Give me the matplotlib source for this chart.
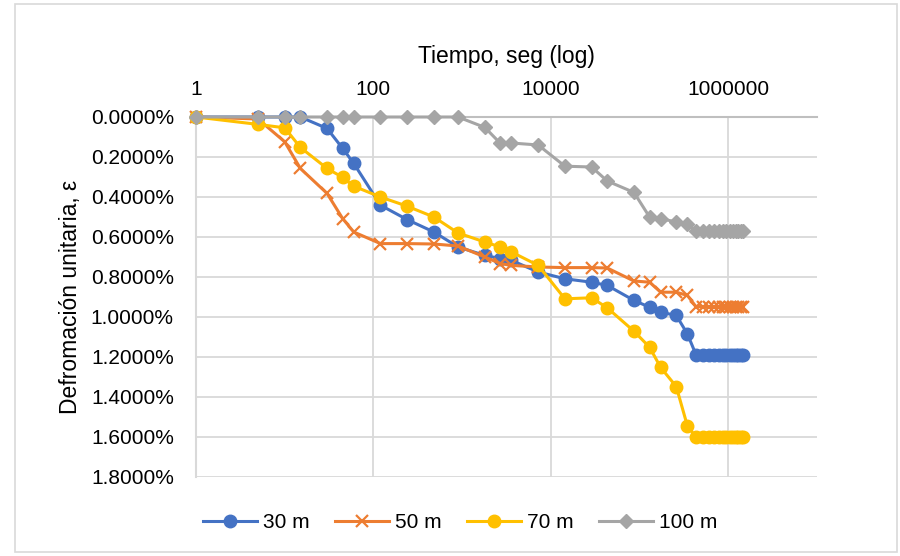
import matplotlib
matplotlib.use("Agg")
import matplotlib.pyplot as plt
from matplotlib.ticker import FixedLocator, FuncFormatter, NullLocator
from matplotlib.patches import Rectangle

plt.rcParams['font.family'] = ['Liberation Sans', 'DejaVu Sans']

# Time (s)
tiempo = [1, 5, 10, 15, 30, 45, 60, 120, 240, 480, 900, 1800, 2700, 3600,
          7200, 14400, 28800, 43200, 86400, 129600, 172800, 259200, 345600,
          432000, 518400, 604800, 691200, 777600, 864000, 950400, 1036800,
          1123200, 1209600, 1296000, 1382400, 1468800]

# Strain (%)
def_30 = [0, 0, 0, 0, 0.057, 0.157, 0.232, 0.441, 0.513, 0.575, 0.650, 0.692,
          0.708, 0.717, 0.775, 0.809, 0.826, 0.842, 0.917, 0.951, 0.976, 0.992,
          1.084, 1.188, 1.188, 1.188, 1.188, 1.188, 1.188, 1.188, 1.188, 1.188,
          1.188, 1.188, 1.188, 1.188]
def_50 = [0, 0.010, 0.124, 0.257, 0.382, 0.508, 0.575, 0.633, 0.633, 0.635,
          0.645, 0.700, 0.733, 0.742, 0.750, 0.753, 0.753, 0.755, 0.820, 0.826,
          0.876, 0.876, 0.892, 0.948, 0.948, 0.948, 0.948, 0.948, 0.948, 0.948,
          0.948, 0.948, 0.948, 0.948, 0.948, 0.948]
def_70 = [0, 0.037, 0.054, 0.152, 0.257, 0.302, 0.346, 0.400, 0.446, 0.500,
          0.580, 0.625, 0.650, 0.675, 0.742, 0.909, 0.904, 0.954, 1.071, 1.151,
          1.252, 1.348, 1.544, 1.600, 1.600, 1.600, 1.600, 1.600, 1.600, 1.600,
          1.600, 1.600, 1.600, 1.600, 1.600, 1.600]
def_100 = [0, 0, 0, 0, 0, 0, 0, 0, 0, 0, 0, 0.052, 0.132, 0.130, 0.140, 0.246,
           0.250, 0.320, 0.377, 0.500, 0.508, 0.525, 0.536, 0.570, 0.570, 0.570,
           0.570, 0.570, 0.570, 0.570, 0.570, 0.570, 0.570, 0.570, 0.570, 0.570]

series = [("30 m", def_30, "#4472C4", "o"),
          ("50 m", def_50, "#ED7D31", "x"),
          ("70 m", def_70, "#FFC000", "o"),
          ("100 m", def_100, "#A5A5A5", "D")]

x_ticks = [1, 100, 10000, 1000000]
y_ticks = [0, 0.2, 0.4, 0.6, 0.8, 1.0, 1.2, 1.4, 1.6, 1.8]

fig = plt.figure(figsize=(9, 5.56), dpi=100)
fig.patches.append(Rectangle((15/900, 4/556), 882/900, 548/556, transform=fig.transFigure,
                             fill=False, edgecolor="#D9D9D9", lw=1.2))
ax = fig.add_axes([196/900, 1-477/556, 621/900, 360/556])

for name, vals, col, mk in series:
    if mk == "x":
        ax.plot(tiempo, vals, color=col, lw=2.2, marker=mk, ms=8, mew=1.6,
                label=name, clip_on=False, zorder=3)
    elif mk == "D":
        ax.plot(tiempo, vals, color=col, lw=2.2, marker=mk, ms=7,
                mec=col, label=name, clip_on=False, zorder=3)
    else:
        ax.plot(tiempo, vals, color=col, lw=2.2, marker=mk, ms=9,
                mec=col, label=name, clip_on=False, zorder=3)

ax.set_xscale("log")
ax.set_xlim(1, 1e7)
ax.set_ylim(1.8, 0)
ax.xaxis.set_major_locator(FixedLocator(x_ticks))
ax.xaxis.set_minor_locator(NullLocator())
ax.xaxis.set_major_formatter(FuncFormatter(lambda v, p: f"{int(round(v))}"))
ax.yaxis.set_major_locator(FixedLocator(y_ticks))
ax.yaxis.set_major_formatter(FuncFormatter(lambda v, p: f"{v:.4f}%"))

ax.xaxis.tick_top()
ax.xaxis.set_label_position("top")
ax.tick_params(axis="both", length=0, labelsize=15, colors="#404040")
ax.tick_params(axis="x", pad=13, labelcolor="black")
ax.tick_params(axis="y", pad=16, labelcolor="black")

ax.grid(True, color="#D9D9D9", lw=1.3)
ax.set_axisbelow(True)
for s in ["right", "bottom"]:
    ax.spines[s].set_visible(False)
ax.spines["top"].set_color("#BFBFBF")
ax.spines["top"].set_linewidth(1.5)
ax.spines["left"].set_color("#D9D9D9")
ax.spines["left"].set_linewidth(1.5)

ax.set_xlabel("Tiempo, seg (log)", fontsize=16.5, labelpad=12)
ax.set_ylabel("Defromación unitaria, ε", fontsize=16.5, labelpad=6)

fig.legend(loc="center", bbox_to_anchor=(460/900, 1-523/556), ncol=4, frameon=False,
           fontsize=15, handlelength=2.6, columnspacing=1.2, handletextpad=0.3)

fig.savefig("out.png", dpi=100)
